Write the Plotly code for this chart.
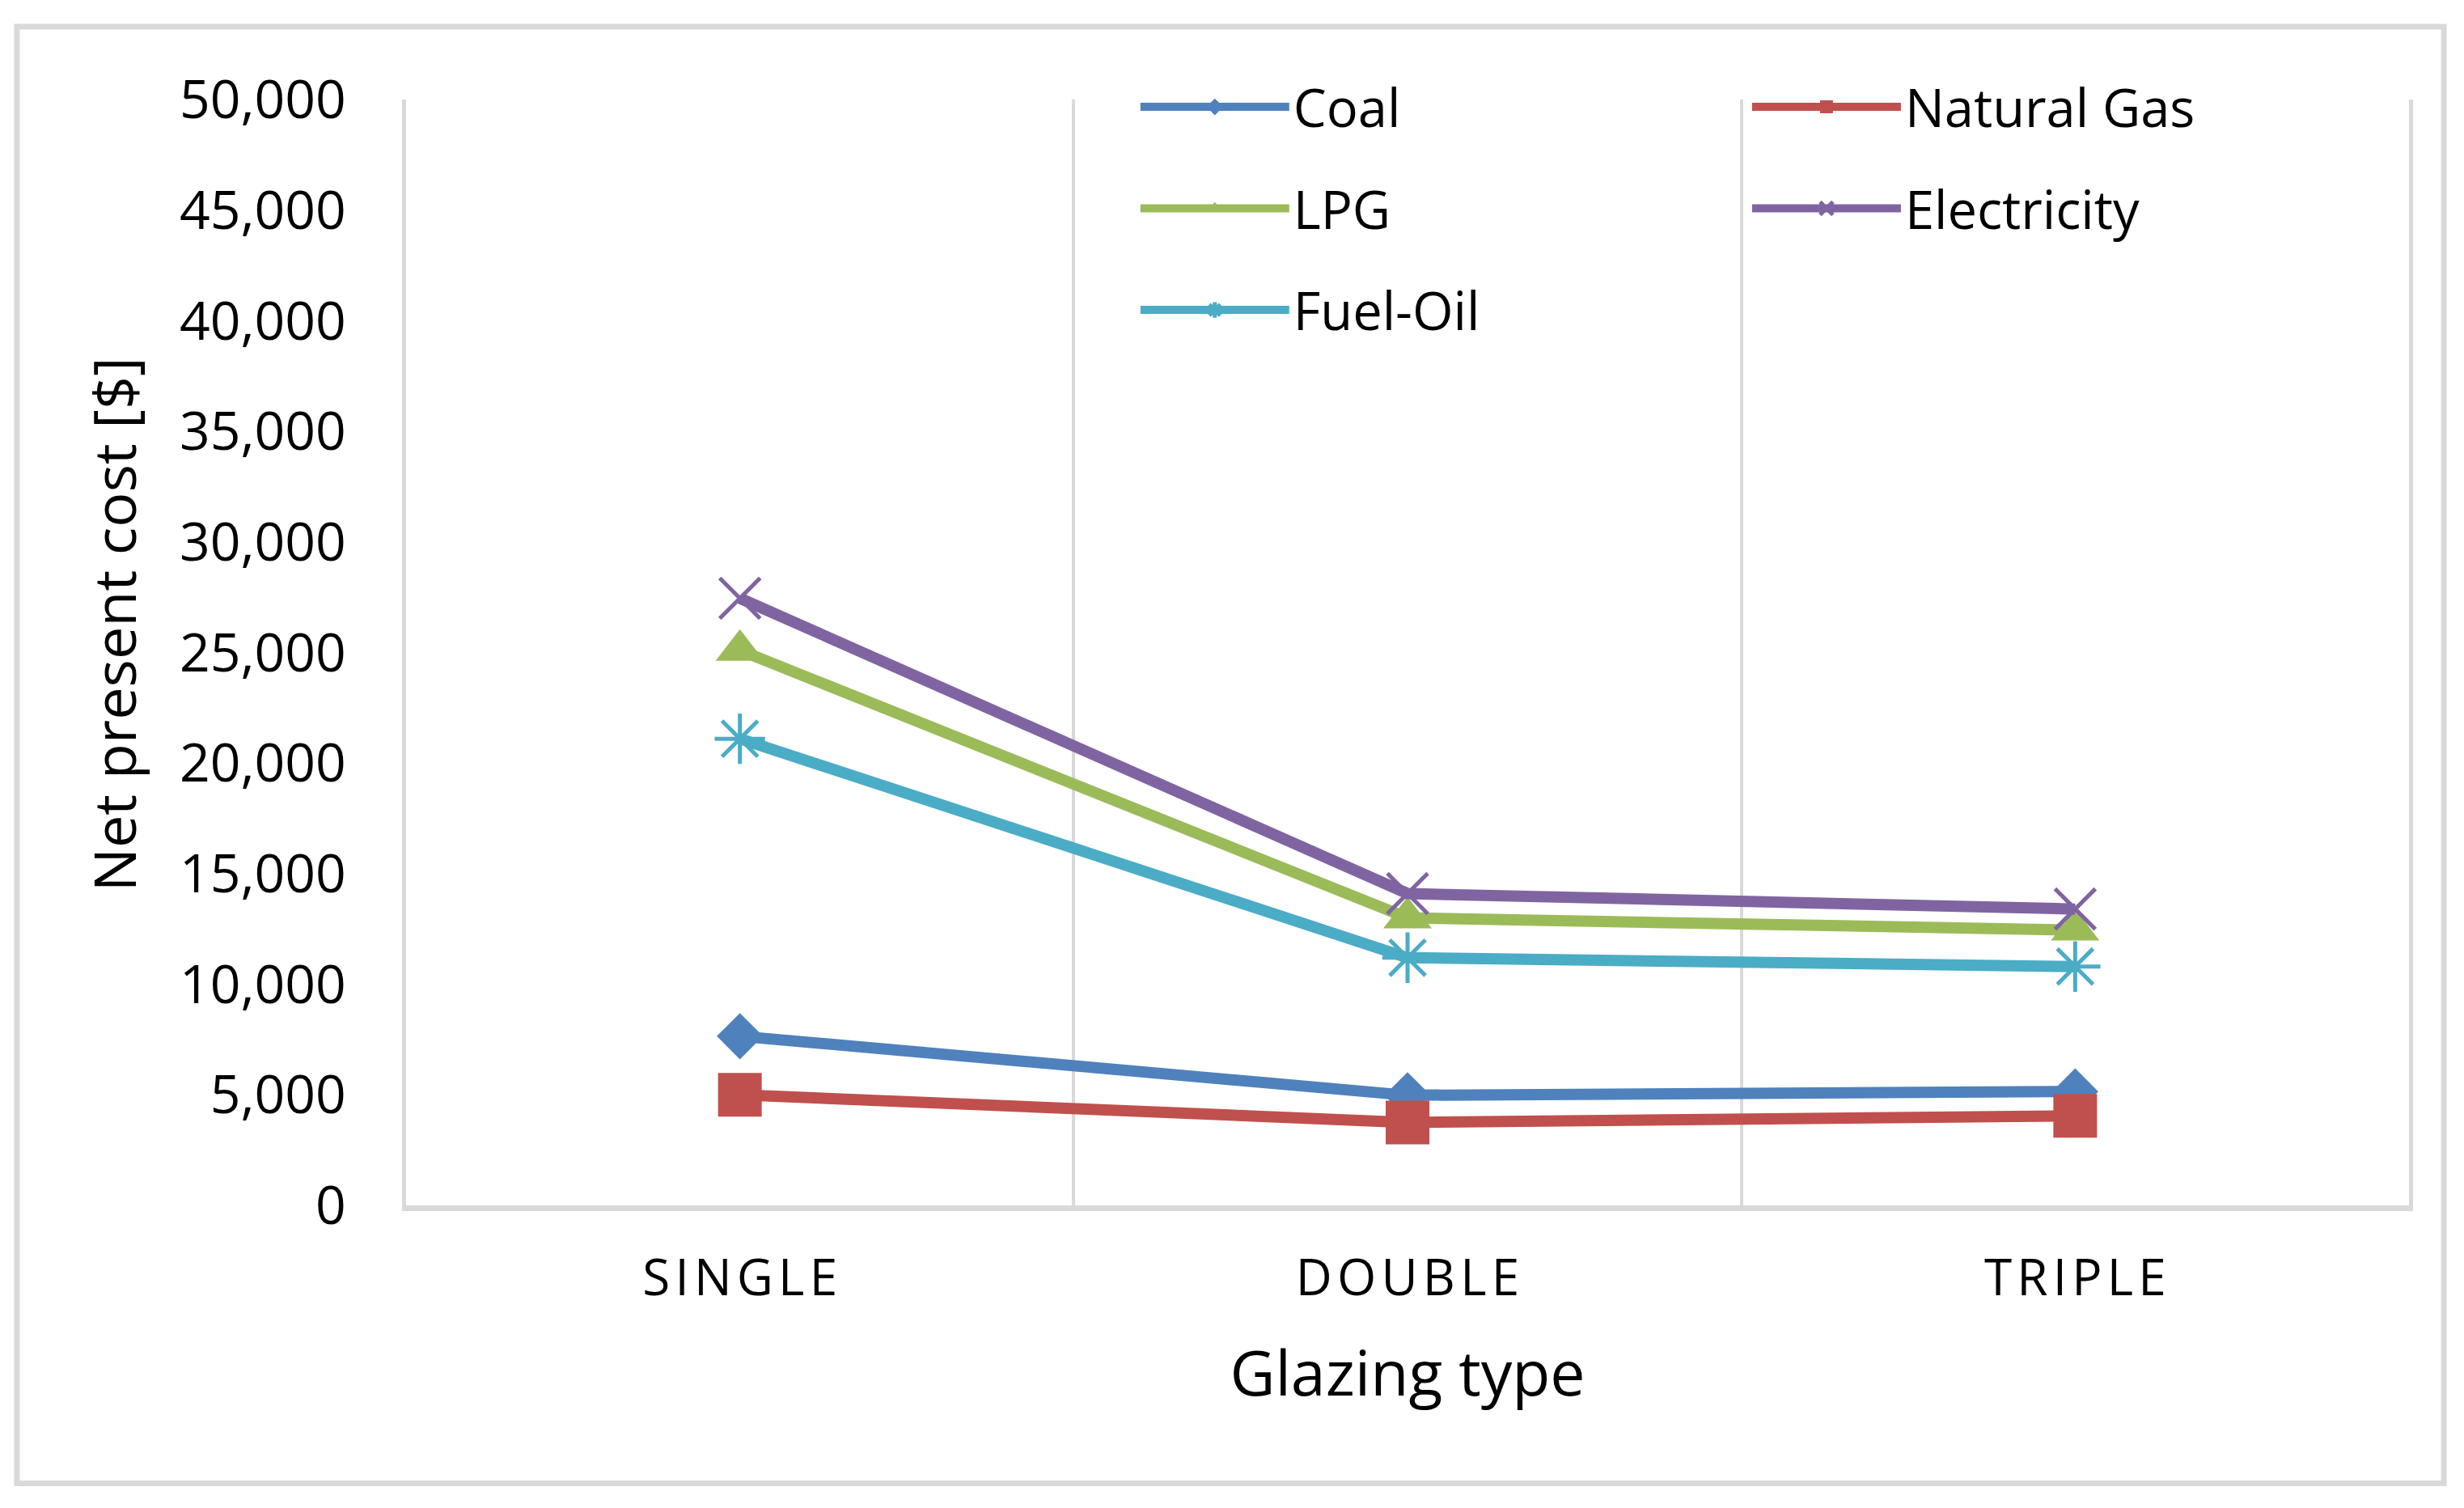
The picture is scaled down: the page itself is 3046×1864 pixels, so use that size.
import plotly.graph_objects as go

# ---- data ----
categories = ["SINGLE", "DOUBLE", "TRIPLE"]
tick_labels = ["S\u200aI\u200aN\u200aG\u200aL\u200aE", "D\u200aO\u200aU\u200aB\u200aL\u200aE", "T\u200aR\u200aI\u200aP\u200aL\u200aE"]
coal = [7650, 4980, 5150]
natural_gas = [5000, 3750, 4050]
lpg = [25100, 13000, 12450]
electricity = [27450, 14100, 13400]
fuel_oil = [21100, 11200, 10800]

FONT = "Open Sans"
GRID = "#D9D9D9"

series = [
    ("Coal", coal, "#4F81BD", "diamond", 44, "legend"),
    ("Natural Gas", natural_gas, "#C0504D", "square", 54, "legend2"),
    ("LPG", lpg, "#9BBB59", "triangle-up", 52, "legend"),
    ("Electricity", electricity, "#8064A2", "x-thin", 50, "legend2"),
    ("Fuel-Oil", fuel_oil, "#4BACC6", "asterisk", 52, "legend"),
]

fig = go.Figure()
for name, vals, color, sym, size, leg in series:
    marker = dict(symbol=sym, size=size, color=color)
    if sym in ("x-thin", "asterisk"):
        marker["line"] = dict(color=color, width=5)
    fig.add_trace(go.Scatter(
        x=tick_labels, y=vals, name=name, mode="lines+markers",
        line=dict(color=color, width=14), marker=marker,
        legend=leg, legendgroup=name,
    ))

legend_common = dict(
    xanchor="left", yanchor="top", orientation="v",
    font=dict(family=FONT, size=65, color="black"),
    itemwidth=184, tracegroupgap=38, traceorder="grouped",
    bgcolor="rgba(0,0,0,0)", borderwidth=0,
)

fig.update_layout(
    width=3046, height=1864,
    paper_bgcolor="white", plot_bgcolor="white",
    margin=dict(l=494, r=76, t=115, b=382, autoexpand=False),
    font=dict(family=FONT, color="black"),
    showlegend=True,
    legend=dict(x=0.3646, y=1.029, **legend_common),
    legend2=dict(x=0.670, y=1.029, **legend_common),
    xaxis=dict(
        type="category", categoryorder="array", categoryarray=tick_labels,
        range=[-0.5, 2.5], tickson="boundaries",
        showgrid=True, gridcolor=GRID, gridwidth=4,
        showline=True, linecolor=GRID, linewidth=7,
        ticks="", ticklabelstandoff=30,
        tickfont=dict(family=FONT, size=62, color="black"),
        title=dict(text="Glazing type", font=dict(family=FONT, size=77, color="black"), standoff=55),
        zeroline=False,
    ),
    yaxis=dict(
        range=[0, 50000], tick0=0, dtick=5000, tickformat=",d",
        showgrid=False, zeroline=False,
        showline=True, linecolor=GRID, linewidth=5, mirror=True,
        ticks="", ticklabelstandoff=56,
        tickfont=dict(family=FONT, size=66, color="black"),
    ),
    annotations=[dict(
        text="Net present cost [$]", textangle=-90,
        xref="paper", yref="paper", x=-0.1462, y=0.525,
        xanchor="center", yanchor="middle", showarrow=False,
        font=dict(family=FONT, size=72, color="black"),
    )],
    shapes=[dict(
        type="rect", xref="paper", yref="paper",
        x0=-0.1943, x1=1.0174, y0=-0.2513, y1=1.0658,
        line=dict(color=GRID, width=7), fillcolor="rgba(0,0,0,0)", layer="below",
    )],
)

fig.write_html("out.html")
